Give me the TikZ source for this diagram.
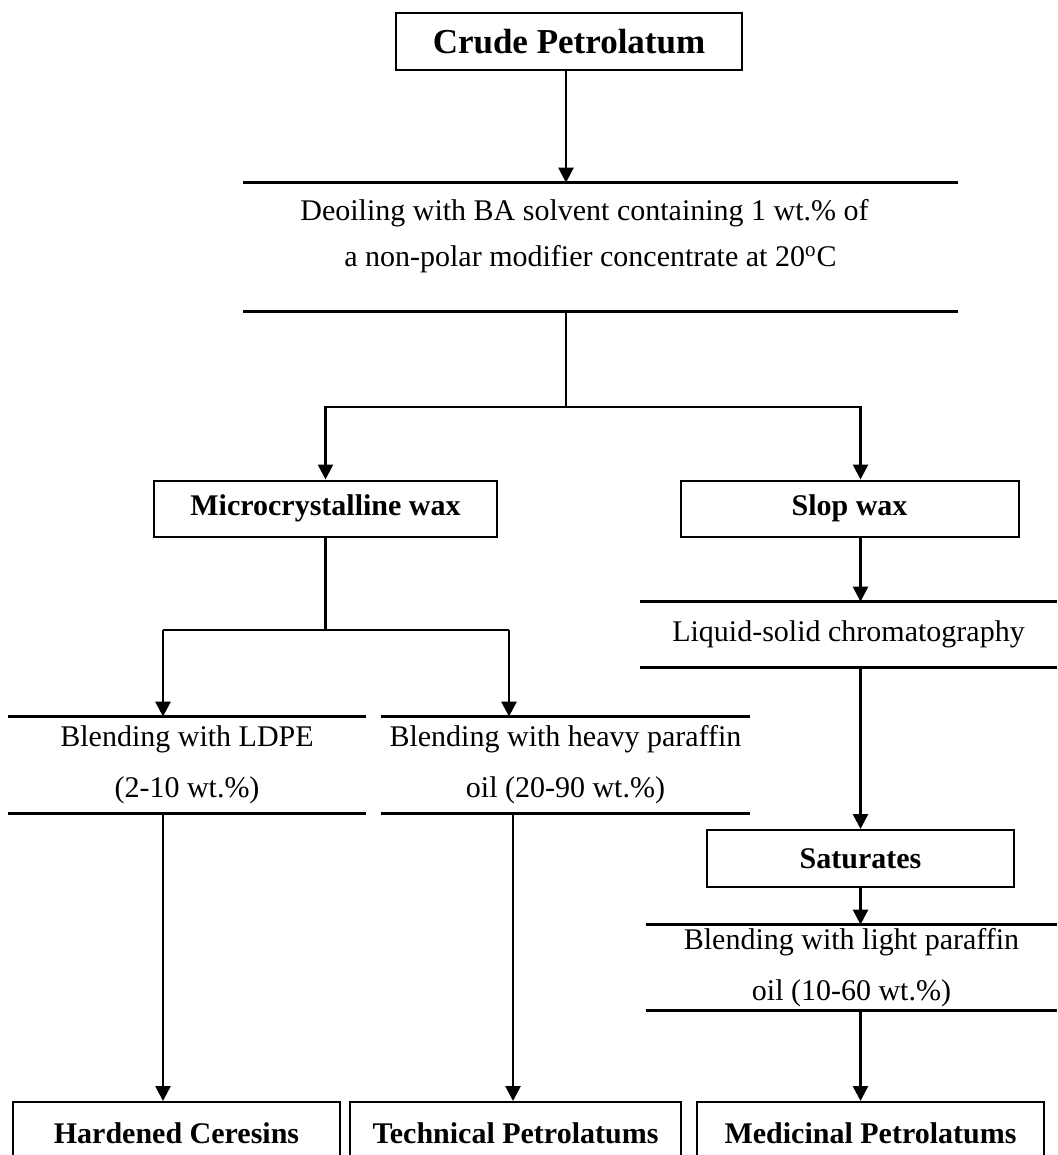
\documentclass[tikz,border=0pt]{standalone}
\usepackage{fontspec}
\setmainfont{Liberation Serif}
\usetikzlibrary{arrows.meta,positioning}

\tikzset{
  box/.style={draw,line width=1pt,inner sep=0pt,font=\fontsize{15}{18}\selectfont\bfseries},
  stepbox/.style={inner sep=0pt,align=center,font=\fontsize{15}{25.5}\selectfont},
  rule/.style={line width=1.3pt},
  flow/.style={line width=1.3pt,-{Triangle[width=7.5pt,length=7.5pt]}},
}

\begin{document}
\begin{tikzpicture}[x=0.5pt,y=-0.5pt]
  \useasboundingbox (0,0) rectangle (1057,1155);
  \clip (0,0) rectangle (1057,1155);

  % boxes
  \node[box,minimum width=173pt,minimum height=28.5pt,font=\fontsize{17.5}{20}\selectfont\bfseries] (crude) at (569,41.5) {Crude Petrolatum};
  \node[box,minimum width=171.5pt,minimum height=28pt] (micro) at (325.5,508.5) {Microcrystalline wax};
  \node[box,minimum width=169pt,minimum height=28pt] (slop) at (849.5,508.5) {Slop wax};
  \node[box,minimum width=153.5pt,minimum height=28.5pt] (sat) at (860.5,858.5) {Saturates};
  \node[box,minimum width=163.5pt,minimum height=31.5pt] (hard) at (176.5,1133.5) {Hardened Ceresins};
  \node[box,minimum width=165.5pt,minimum height=31.5pt] (tech) at (515.5,1133.5) {Technical Petrolatums};
  \node[box,minimum width=173.5pt,minimum height=31.5pt] (med) at (870.5,1133.5) {Medicinal Petrolatums};

  % process steps between two rules
  \node[stepbox,minimum width=357.5pt,minimum height=64pt,align=left,text depth=14pt,
        font=\fontsize{15}{23}\selectfont] (deoil) at (600.5,247)
    {Deoiling with BA solvent containing 1 wt.\% of\hspace*{16pt}\\
     \hspace*{22pt}a non-polar modifier concentrate at 20\textsuperscript{o}C};
  \node[stepbox,minimum width=208.5pt,minimum height=32.5pt] (liquid) at (848.5,634.5) {Liquid-solid chromatography};
  \node[stepbox,minimum width=179pt,minimum height=48pt] (ldpe) at (187,765) {Blending with LDPE\\(2-10 wt.\%)};
  \node[stepbox,minimum width=184.5pt,minimum height=48pt] (heavy) at (565.5,765) {Blending with heavy paraffin\\oil (20-90 wt.\%)};
  \node[stepbox,minimum width=205.5pt,minimum height=42.5pt] (light) at (851.5,967.5) {Blending with light paraffin\\oil (10-60 wt.\%)};

  \foreach \s in {deoil,liquid,ldpe,heavy,light}
    \draw[rule] (\s.north west) -- (\s.north east) (\s.south west) -- (\s.south east);

  % connectors
  \coordinate (fork) at (566,407);
  \coordinate (ml) at (163,630);
  \coordinate (mr) at (509,630);
  \coordinate (mt) at (513,630);

  \draw[flow] (fork |- crude.south) -- (fork |- deoil.north);
  \draw[rule] (fork |- deoil.south) -- (fork);
  \draw[flow] (fork) -| (micro);
  \draw[flow] (fork) -| (sat |- slop.north);

  \draw[rule] (micro) -- (micro |- ml);
  \draw[rule] (ml) -- (mr);
  \draw[flow] (ml) -- (ml |- ldpe.north);
  \draw[flow] (mr) -- (mr |- heavy.north);
  \draw[flow] (ml |- ldpe.south) -- (ml |- hard.north);
  \draw[flow] (mt |- heavy.south) -- (mt |- tech.north);

  \draw[flow] (sat |- slop.south) -- (sat |- liquid.north);
  \draw[flow] (sat |- liquid.south) -- (sat);
  \draw[flow] (sat) -- (sat |- light.north);
  \draw[flow] (sat |- light.south) -- (sat |- med.north);
\end{tikzpicture}
\end{document}
